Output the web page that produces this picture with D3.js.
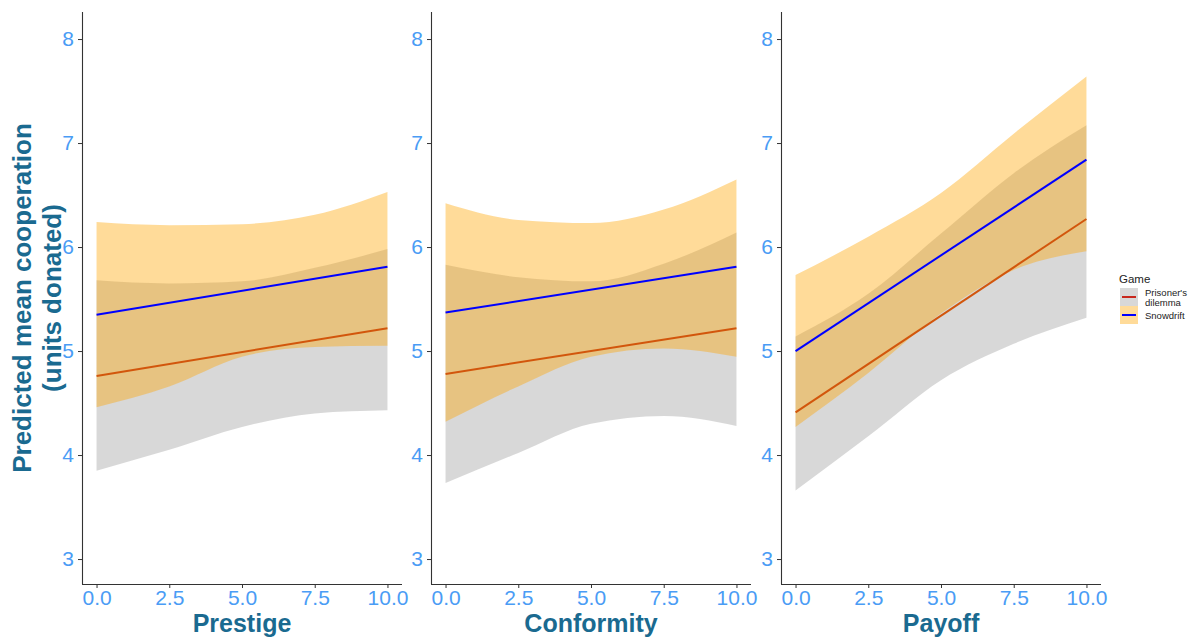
<!DOCTYPE html>
<html><head><meta charset="utf-8">
<script src="https://cdn.jsdelivr.net/npm/d3@7"></script>
<style>body{margin:0;background:#fff;} text{font-family:"Liberation Sans",Arial,sans-serif;}</style>
</head><body>
<svg id="c" width="1189" height="638"></svg>
<script>
const panels = ["Prestige", "Conformity", "Payoff"];
const xs = [0, 2.5, 5, 7.5, 10];
const xTicks = [0, 2.5, 5, 7.5, 10];
const yTicks = [3, 4, 5, 6, 7, 8];
const games = ["Prisoner's dilemma", "Snowdrift"];
// fitted lines (value at x=0 and x=10)
const pdLine = [[4.76, 5.22], [4.78, 5.22], [4.41, 6.27]];
const sdLine = [[5.35, 5.81], [5.37, 5.81], [5.00, 6.84]];
// confidence bands at xs
const pdLower = [[3.85, 4.05, 4.27, 4.40, 4.43], [3.73, 4.02, 4.30, 4.375, 4.28], [3.66, 4.18, 4.72, 5.07, 5.32]];
const pdUpper = [[5.68, 5.65, 5.67, 5.80, 5.98], [5.83, 5.71, 5.67, 5.84, 6.14], [5.14, 5.55, 6.13, 6.71, 7.17]];
const sdLower = [[4.46, 4.66, 4.945, 5.04, 5.05], [4.32, 4.66, 4.945, 5.025, 4.945], [4.27, 4.79, 5.36, 5.78, 5.96]];
const sdUpper = [[6.24, 6.21, 6.22, 6.31, 6.53], [6.42, 6.26, 6.23, 6.36, 6.65], [5.73, 6.10, 6.52, 7.09, 7.64]];

const svg = d3.select("#c");
const panelLeft = [82, 431, 781];
const panelW = 320, plotTop = 12, plotBottom = 584;
const y = d3.scaleLinear().domain([2.76, 8.26]).range([plotBottom, plotTop]);
const tickCol = "#4a9cf5", titleCol = "#1a6a90", axisCol = "#333";
const pdLineCol = "#d2560c", sdLineCol = "#0000ff";

panels.forEach((name, i) => {
  const x = d3.scaleLinear().domain([-0.5, 10.5]).range([panelLeft[i], panelLeft[i] + panelW]);
  const g = svg.append("g");
  const area = (lo, hi) => d3.area().curve(d3.curveMonotoneX)
      .x((d, k) => x(xs[k])).y0((d, k) => y(lo[k])).y1((d, k) => y(hi[k]))(xs);
  g.append("path").attr("d", area(pdLower[i], pdUpper[i])).attr("fill", "#7f7f7f").attr("fill-opacity", 0.3);
  g.append("path").attr("d", area(sdLower[i], sdUpper[i])).attr("fill", "#ffa500").attr("fill-opacity", 0.4);
  const line = d3.line().x(d => x(d[0])).y(d => y(d[1]));
  g.append("path").attr("d", line([[0, pdLine[i][0]], [10, pdLine[i][1]]])).attr("stroke", pdLineCol).attr("stroke-width", 2).attr("fill", "none");
  g.append("path").attr("d", line([[0, sdLine[i][0]], [10, sdLine[i][1]]])).attr("stroke", sdLineCol).attr("stroke-width", 2).attr("fill", "none");

  const xa = g.append("g").attr("transform", `translate(0,${plotBottom})`)
    .call(d3.axisBottom(x).tickValues(xTicks).tickFormat(d3.format(".1f")).tickSizeOuter(0).tickSize(4).tickPadding(2));
  const ya = g.append("g").attr("transform", `translate(${panelLeft[i]},0)`)
    .call(d3.axisLeft(y).tickValues(yTicks).tickFormat(d3.format("d")).tickSizeOuter(0).tickSize(4).tickPadding(4));
  [xa, ya].forEach(a => {
    a.select(".domain").attr("stroke", axisCol).attr("stroke-width", 1.1);
    a.selectAll(".tick line").attr("stroke", axisCol);
    a.selectAll(".tick text").attr("fill", tickCol).attr("font-size", 21).attr("font-family", "Liberation Sans, Arial, sans-serif");
  });
  xa.select(".domain").attr("d", `M${panelLeft[i]},0.5H${panelLeft[i] + panelW}`);
  ya.select(".domain").attr("d", `M0.5,${plotTop}V${plotBottom}`);

  g.append("text").attr("x", panelLeft[i] + panelW / 2).attr("y", 632.3).attr("text-anchor", "middle")
    .attr("font-size", 25).attr("font-weight", "bold").attr("fill", titleCol).text(name);
});

// y axis title
const yt = svg.append("text").attr("transform", `translate(31,298) rotate(-90)`).attr("text-anchor", "middle")
  .attr("font-size", 26).attr("font-weight", "bold").attr("fill", titleCol);
yt.append("tspan").attr("x", 0).attr("dy", 0).text("Predicted mean cooperation");
yt.append("tspan").attr("x", 0).attr("dy", 30).text("(units donated)");

// legend
const lg = svg.append("g");
lg.append("text").attr("x", 1119).attr("y", 283).attr("font-size", 11.5).attr("fill", "#222").text("Game");
const keyCols = [["#7f7f7f", 0.3, "#c8281e"], ["#ffa500", 0.4, "#0000ff"]];
const keyY = [288, 306];
games.forEach((gname, k) => {
  lg.append("rect").attr("x", 1120).attr("y", keyY[k]).attr("width", 18).attr("height", 18)
    .attr("fill", keyCols[k][0]).attr("fill-opacity", keyCols[k][1]);
  lg.append("line").attr("x1", 1122).attr("x2", 1136).attr("y1", keyY[k] + 9).attr("y2", keyY[k] + 9)
    .attr("stroke", keyCols[k][2]).attr("stroke-width", 2);
});
const l1 = lg.append("text").attr("x", 1145).attr("font-size", 9.5).attr("fill", "#222");
l1.append("tspan").attr("x", 1145).attr("y", 296).text("Prisoner's");
l1.append("tspan").attr("x", 1145).attr("y", 306).text("dilemma");
lg.append("text").attr("x", 1145).attr("y", 319).attr("font-size", 9.5).attr("fill", "#222").text("Snowdrift");
</script>
</body></html>
